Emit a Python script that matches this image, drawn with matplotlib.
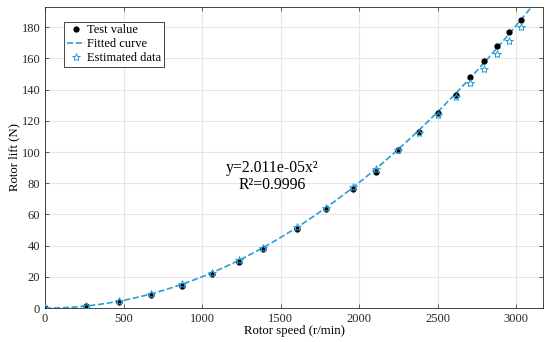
import matplotlib
matplotlib.use('Agg')
import matplotlib.pyplot as plt
import numpy as np

plt.rcParams['font.family'] = ['Liberation Serif', 'DejaVu Serif']

# Measured points
speed = [0, 261, 471, 675, 873, 1064, 1236, 1389, 1605, 1790, 1962,
         2108, 2248, 2382, 2503, 2618, 2707, 2796, 2879, 2955, 3032]
test_lift = [0, 1.3, 3.8, 8.3, 14.0, 21.8, 29.8, 38.0, 51.0, 63.5, 76.3,
             87.5, 101.0, 113.0, 125.0, 136.5, 148.0, 158.0, 168.0, 177.0, 184.5]
est_lift = [0, 1.4, 4.5, 9.2, 15.3, 22.8, 30.7, 38.8, 51.8, 64.4, 77.4,
            89.4, 101.6, 112.5, 123.5, 135.0, 144.0, 153.0, 163.0, 171.0, 180.0]

coef = 2.011e-05
blue = '#2a9fd8'

fig = plt.figure(figsize=(5.5, 3.42), dpi=100)
ax = fig.add_axes([0.082, 0.099, 0.905, 0.881])

xx = np.linspace(0, 3170, 300)
ax.plot(speed, test_lift, 'o', color='black', markersize=3.5, label='Test value', zorder=3)
ax.plot(xx, coef * xx**2, '--', color=blue, linewidth=1.2, label='Fitted curve', zorder=2)
ax.plot(speed, est_lift, '*', markerfacecolor='none', markeredgecolor=blue,
        markersize=6, markeredgewidth=0.7, label='Estimated data', zorder=4)

ax.set_xlim(0, 3170)
ax.set_ylim(0, 193)
ax.set_xticks([0, 500, 1000, 1500, 2000, 2500, 3000])
ax.set_yticks(range(0, 181, 20))
ax.grid(True, color='#e6e6e6', linewidth=0.8)
ax.set_axisbelow(True)
ax.tick_params(direction='in', top=True, right=True, labelsize=9,
               colors='#262626', length=3, width=0.5)
for s in ax.spines.values():
    s.set_color('#262626')
    s.set_linewidth(0.6)

ax.set_xlabel('Rotor speed (r/min)', fontsize=9.2, labelpad=0)
ax.set_ylabel('Rotor lift (N)', fontsize=9.2, labelpad=1)

ax.text(1446, 89.5, 'y=2.011e-05x\u00b2', fontsize=11.3, ha='center', va='center')
ax.text(1446, 79, 'R\u00b2=0.9996', fontsize=11.3, ha='center', va='center')

leg = ax.legend(loc='upper left', bbox_to_anchor=(0.038, 0.95), fontsize=9,
                fancybox=False, framealpha=1, edgecolor='#262626',
                handlelength=1.5, handletextpad=0.15, borderpad=0.2,
                labelspacing=0.15, borderaxespad=0)
leg.get_frame().set_linewidth(0.6)

fig.savefig('out.png', dpi=100)
